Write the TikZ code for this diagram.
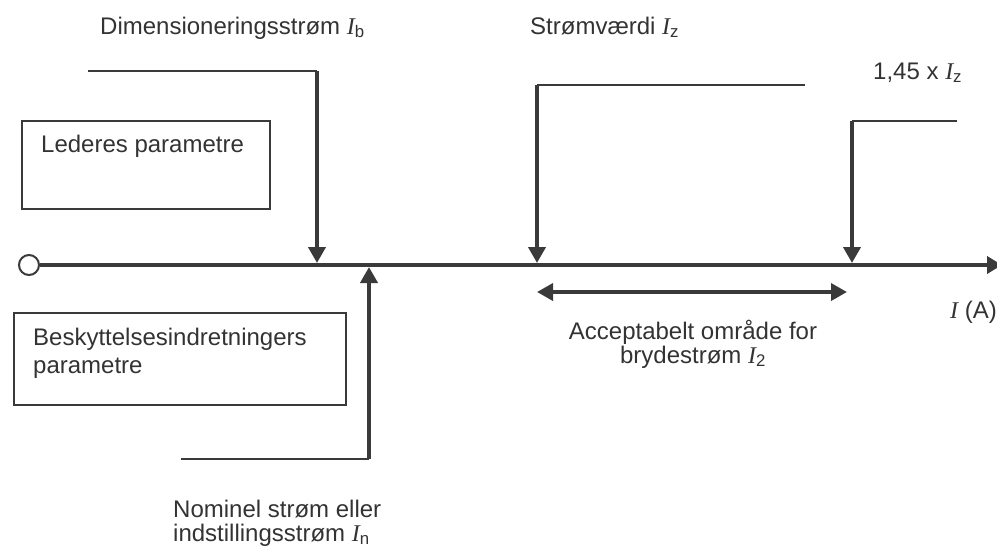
\documentclass[tikz,border=0pt]{standalone}
\usepackage{fontspec}
\setmainfont{Liberation Sans}
\newfontfamily\tnr{Liberation Serif}
\usetikzlibrary{arrows.meta}
\definecolor{ink}{HTML}{333333}
\definecolor{stroke}{HTML}{3A3A3A}
\newcommand\Ivar[1]{{\tnr\itshape I}\textsubscript{#1}}
\begin{document}
\begin{tikzpicture}[x=1pt,y=-1pt,
  font=\fontsize{24}{24}\selectfont, text=ink,
  axisline/.style={draw=stroke,line width=3.8pt},
  pointer/.style={draw=stroke,line width=3.8pt,-{Triangle[length=16pt,width=17pt]}},
  leader/.style={draw=stroke,line width=2pt},
  spanarrow/.style={draw=stroke,line width=3.6pt,{Triangle[length=16pt,width=17pt]}-{Triangle[length=16pt,width=17pt]}},
  box/.style={draw=stroke,line width=2pt,rectangle,inner sep=0pt,anchor=north west},
  lbl/.style={inner sep=0pt,align=left}]
\useasboundingbox (0,0) rectangle (997,547);
% boxes
\node[box,minimum width=248pt,minimum height=88pt] (led) at (21,120) {};
\node[box,minimum width=332pt,minimum height=92pt] (besk) at (13,312) {};
\node[lbl,anchor=base west] (tled) at (41,152) {Lederes parametre};
\node[lbl,anchor=north west] (tbesk) at (33,327.5) {Beskyttelsesindretningers\\[4pt]parametre};
% axis
\node[draw=stroke,line width=2pt,circle,minimum size=20pt,inner sep=0pt,fill=white] (o) at (29,265) {};
\coordinate (axend) at (1002,265);
\draw[axisline,-{Triangle[length=15pt,width=17pt]}] (o.east) -- (axend);
% I_b
\coordinate (ibL) at (88,71);
\coordinate (ibT) at (317,71);
\coordinate (ibA) at (317,263);
\draw[leader] (ibL) -- (ibT);
\draw[pointer] (ibT) -- (ibA);
% I_n
\coordinate (inL) at (181,459);
\coordinate (inB) at (369,459);
\coordinate (inA) at (369,267);
\draw[leader] (inL) -- (inB);
\draw[pointer] (inB) -- (inA);
% I_z
\coordinate (izR) at (805,85);
\coordinate (izT) at (537,85);
\coordinate (izA) at (537,263);
\draw[leader] (izR) -- (izT);
\draw[pointer] (izT) -- (izA);
% 1,45 I_z
\coordinate (hR) at (957,121);
\coordinate (hT) at (852,121);
\coordinate (hA) at (852,263);
\draw[leader] (hR) -- (hT);
\draw[pointer] (hT) -- (hA);
% span
\coordinate (r1) at (537,292);
\coordinate (r2) at (847,292);
\draw[spanarrow] (r1) -- (r2);
% labels
\node[lbl,anchor=base west] (tb) at (100,34) {Dimensioneringsstrøm \Ivar{b}};
\node[lbl,anchor=base west] (tz) at (530,34) {Strømværdi \Ivar{z}};
\node[lbl,anchor=base west] (th) at (873,79) {1,45 x \Ivar{z}};
\node[lbl,anchor=north,align=center] (tacc) at (693,319.5) {Acceptabelt område for\\brydestrøm \Ivar{2}};
\node[lbl,anchor=north west] (tn) at (173,499.5) {Nominel strøm eller\\indstillingsstrøm \Ivar{n}};
\node[lbl,anchor=base east] (tia) at (997,318) {{\tnr\itshape I} (A)};
\end{tikzpicture}
\end{document}
